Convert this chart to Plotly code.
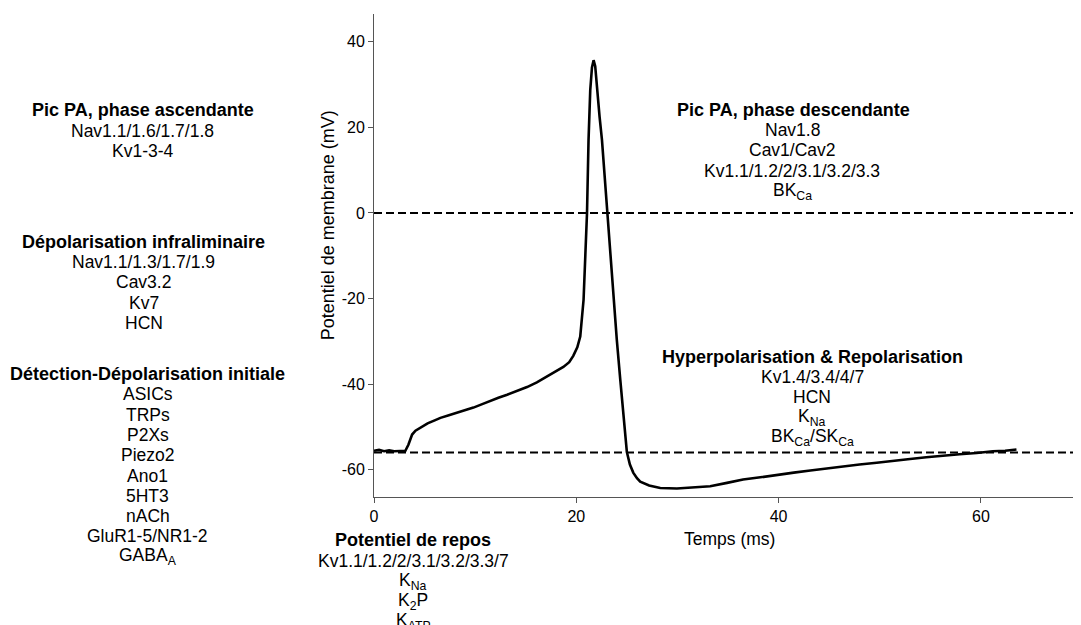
import plotly.graph_objects as go

# ---- data ----
time_ms = [0, 0.5, 1.0, 1.5, 2.0, 2.5, 3.1, 3.4, 3.77, 4.1, 4.59, 5.3, 6.0, 6.57, 7.4,
           8.22, 9.0, 9.83, 10.7, 11.51, 12.3, 13.16, 14.1, 15.13, 16.1, 17.11, 17.9,
           18.72, 19.3, 19.7, 20.1, 20.39, 20.72, 20.9, 21.06, 21.21, 21.38, 21.55, 21.71,
           21.87, 22.04, 22.3, 22.54, 22.8, 23.03, 23.35, 23.68, 24.0, 24.35, 24.7, 25.0,
           25.3, 25.63, 26.0, 26.32, 27.2, 28.3, 29.95, 31.6, 33.24, 34.9, 36.49, 38.2,
           39.82, 41.5, 43.14, 44.8, 46.37, 48.0, 49.7, 51.3, 53.0, 54.6, 56.28, 57.9,
           59.58, 61.19, 62.4, 63.52]
voltage_mv = [-55.6, -55.4, -55.7, -55.5, -55.7, -55.6, -55.6, -54.2, -51.8, -50.9, -50.2,
              -49.2, -48.5, -47.9, -47.3, -46.7, -46.2, -45.5, -44.7, -43.9, -43.2, -42.5,
              -41.7, -40.7, -39.6, -38.2, -37.2, -36.0, -34.9, -33.4, -31.4, -28.9, -20.3,
              -10.0, 0.0, 17.0, 28.7, 34.0, 35.7, 34.3, 28.7, 22.5, 17.0, 8.5, 0.0, -10.0,
              -20.3, -29.5, -39.0, -47.5, -55.9, -58.8, -60.7, -62.0, -62.8, -63.7, -64.3,
              -64.4, -64.2, -63.9, -63.1, -62.3, -61.8, -61.2, -60.7, -60.2, -59.7, -59.2,
              -58.8, -58.4, -57.9, -57.5, -57.1, -56.7, -56.4, -56.1, -55.7, -55.6, -55.3]

reference_levels_mv = [0, -56]

x_tick_vals = [0, 20, 40, 60]
x_tick_text = ["0", "20", "40", "60"]
y_tick_vals = [-60, -40, -20, 0, 20, 40]
y_tick_text = ["-60", "-40", "-20", "0", "20", "40"]

x_title = "Temps (ms)"
y_title = "Potentiel de membrane (mV)"

group_titles = [
    "Pic PA, phase ascendante",
    "Dépolarisation infraliminaire",
    "Détection-Dépolarisation initiale",
    "Pic PA, phase descendante",
    "Hyperpolarisation & Repolarisation",
    "Potentiel de repos",
]
group_channels = [
    ["Nav1.1/1.6/1.7/1.8", "Kv1-3-4"],
    ["Nav1.1/1.3/1.7/1.9", "Cav3.2", "Kv7", "HCN"],
    ["ASICs", "TRPs", "P2Xs", "Piezo2", "Ano1", "5HT3", "nACh", "GluR1-5/NR1-2",
     "GABA<sub>A</sub>"],
    ["Nav1.8", "Cav1/Cav2", "Kv1.1/1.2/2/3.1/3.2/3.3", "BK<sub>Ca</sub>"],
    ["Kv1.4/3.4/4/7", "HCN", "K<sub>Na</sub>", "BK<sub>Ca</sub>/SK<sub>Ca</sub>"],
    ["Kv1.1/1.2/2/3.1/3.2/3.3/7", "K<sub>Na</sub>", "K<sub>2</sub>P", "K<sub>ATP</sub>"],
]

# ---- layout (page pixels; the page body adds an 8px offset) ----
OFF = 8
W, H = 1081, 625
PX0, PX1 = 373.5 - OFF, 1080 - OFF      # plot area left/right in figure pixels
PY0, PY1 = 14 - OFF, 497.5 - OFF        # plot area top/bottom in figure pixels
X_RANGE = [0, 69.8]
Y_RANGE = [-66.4, 46.5]

# label placement in page pixels: (title centre x, channel centre x, title y)
group_pos = [
    (142, 142, 110.5),
    (143, 143, 242),
    (147, 147, 374.5),
    (793, 792, 110),
    (812, 812, 357),
    (413, 413, 541),
]
LINE_STEP = 20.3
FONT = "Liberation Sans, Arial, sans-serif"
BODY_SIZE = 17.5
TITLE_SIZE = 18


def px_to_paper(px, py):
    fx, fy = px - OFF, py - OFF
    return (fx - PX0) / (PX1 - PX0), (PY1 - fy) / (PY1 - PY0)


fig = go.Figure()
fig.add_trace(go.Scatter(x=time_ms, y=voltage_mv, mode="lines",
                         line=dict(color="black", width=2.6), showlegend=False,
                         hoverinfo="skip"))

for lvl in reference_levels_mv:
    fig.add_shape(type="line", xref="paper", yref="y", x0=0, x1=1, y0=lvl, y1=lvl,
                  line=dict(color="black", width=2, dash="8px,4px"), layer="below")

annotations = []
for title, chans, (tcx, ccx, ty) in zip(group_titles, group_channels, group_pos):
    ax, ay = px_to_paper(tcx, ty)
    annotations.append(dict(text="<b>" + title + "</b>", x=ax, y=ay, xref="paper",
                            yref="paper", showarrow=False, xanchor="center",
                            yanchor="middle",
                            font=dict(size=TITLE_SIZE, color="black", family=FONT)))
    for i, c in enumerate(chans):
        cx, cy = px_to_paper(ccx, ty + (i + 1) * LINE_STEP)
        annotations.append(dict(text=c, x=cx, y=cy, xref="paper", yref="paper",
                                showarrow=False, xanchor="center", yanchor="middle",
                                font=dict(size=BODY_SIZE, color="black", family=FONT)))

tx, ty_ = px_to_paper(729, 540)
annotations.append(dict(text=x_title, x=tx, y=ty_, xref="paper", yref="paper",
                        showarrow=False, xanchor="center", yanchor="middle",
                        font=dict(size=BODY_SIZE, color="black", family=FONT)))
yx, yy = px_to_paper(327, 226)
annotations.append(dict(text=y_title, x=yx, y=yy, xref="paper", yref="paper",
                        showarrow=False, xanchor="center", yanchor="middle", textangle=-90,
                        font=dict(size=18, color="black", family=FONT)))

axis_common = dict(showgrid=False, zeroline=False, showline=True, linecolor="#555",
                   linewidth=1, ticks="outside", ticklen=5, tickcolor="#555", tickwidth=1,
                   tickfont=dict(size=16, color="black", family=FONT))

fig.update_layout(
    width=W, height=H,
    margin=dict(l=PX0, r=W - PX1, t=PY0, b=H - PY1, pad=0),
    paper_bgcolor="white", plot_bgcolor="white",
    xaxis=dict(range=X_RANGE, tickvals=x_tick_vals, ticktext=x_tick_text, **axis_common),
    yaxis=dict(range=Y_RANGE, tickvals=y_tick_vals, ticktext=y_tick_text, **axis_common),
    annotations=annotations,
    font=dict(family=FONT, color="black"),
)

fig.write_html("out.html")
